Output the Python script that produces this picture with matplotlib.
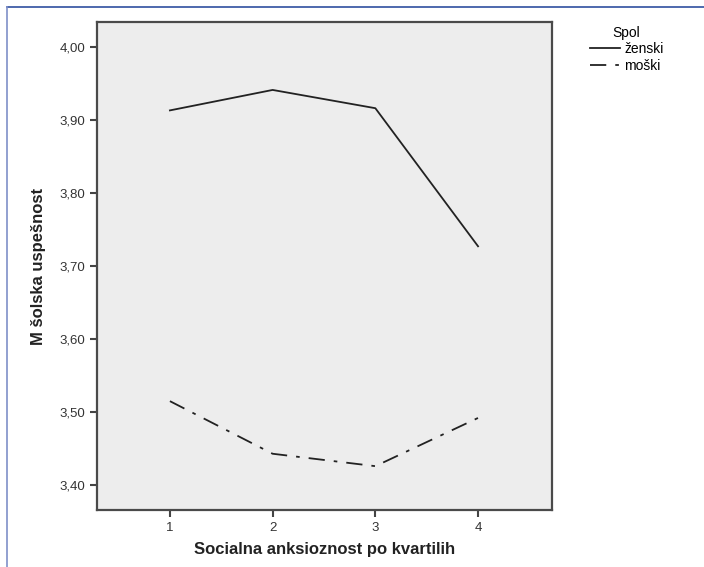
import matplotlib.pyplot as plt

# ----- Podatki ----- #
kvartili = [1, 2, 3, 4]
zenski = [3.913, 3.941, 3.916, 3.727]
moski = [3.515, 3.443, 3.426, 3.492]
y_ticks = [3.40, 3.50, 3.60, 3.70, 3.80, 3.90, 4.00]
y_labels = ["3,40", "3,50", "3,60", "3,70", "3,80", "3,90", "4,00"]

plt.rcParams['font.family'] = ['Liberation Sans', 'DejaVu Sans']

fig = plt.figure(figsize=(7.04, 5.67), dpi=100)
ax = fig.add_axes([97 / 704, 1 - 510 / 567, 455 / 704, 488 / 567])
ax.set_facecolor("#ededed")

ax.plot(kvartili, zenski, color="#222222", lw=1.3, label="ženski")
ax.plot(kvartili, moski, color="#222222", lw=1.3,
        linestyle=(0, (9, 5, 2, 5)), label="moški")

ax.set_xlim(0.29, 4.72)
ax.set_ylim(3.366, 4.034)
ax.set_xticks(kvartili)
ax.set_yticks(y_ticks)
ax.set_yticklabels(y_labels)
ax.tick_params(length=5, width=1.5, color="#444444", labelsize=9.5, labelcolor="#333333")

for s in ax.spines.values():
    s.set_color("#4a4a4a")
    s.set_linewidth(1.6)

ax.set_xlabel("Socialna anksioznost po kvartilih", fontsize=12, fontweight="bold",
              color="#222222", labelpad=6)
ax.set_ylabel("M šolska uspešnost", fontsize=12, fontweight="bold",
              color="#222222", labelpad=10)

leg = fig.legend(loc="upper left", bbox_to_anchor=(577 / 704, 1 - 13 / 567),
                 title="Spol", frameon=False, fontsize=10, title_fontsize=10,
                 handlelength=2.2, handletextpad=0.3, labelspacing=0.2)

# modri okvir
fig.add_artist(plt.Line2D([7 / 704, 1], [1 - 7 / 567, 1 - 7 / 567], color="#2f4fa0", lw=1.2))
fig.add_artist(plt.Line2D([7 / 704, 7 / 704], [0, 1 - 7 / 567], color="#7f90c8", lw=1.2))

fig.savefig("out.png", dpi=100)
